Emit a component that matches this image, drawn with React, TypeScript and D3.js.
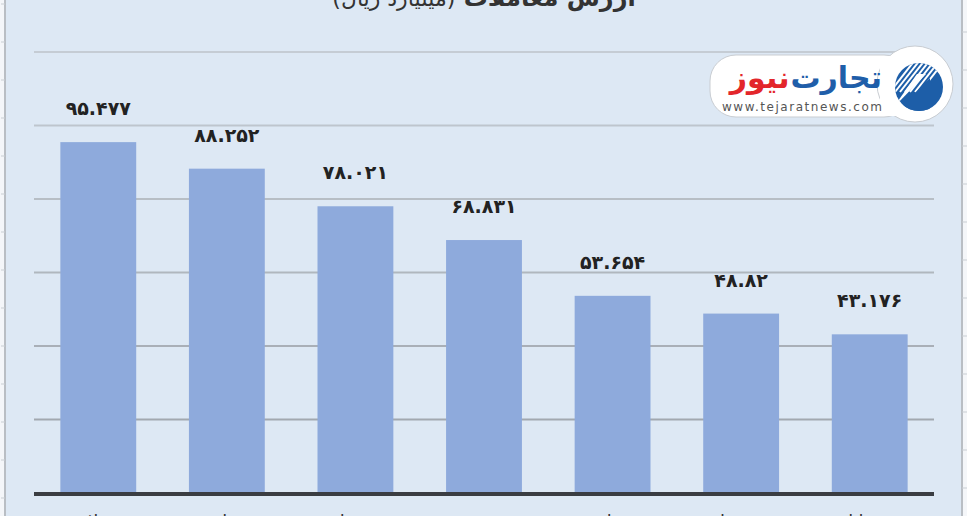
import React, { useEffect, useRef } from 'react';
import * as d3 from 'd3';

const categories = ['فولاد', 'فملی', 'شپنا', 'خودرو', 'وبملت', 'شستا', 'خساپا'];
const values = [95.477, 88.252, 78.021, 68.831, 53.654, 48.82, 43.176];
const yTicks = [0, 20, 40, 60, 80, 100, 120];

const toFa = (s: string) => s.replace(/\d/g, d => '۰۱۲۳۴۵۶۷۸۹'[+d]);

const W = 967;
const H = 516;

const App: React.FC = () => {
  const ref = useRef<SVGSVGElement>(null);

  useEffect(() => {
    const svg = d3.select(ref.current);
    svg.html('');

    const margin = { left: 34, right: 33, top: 52, bottom: 23 };
    const x = d3.scaleBand<string>()
      .domain(categories)
      .range([margin.left, W - margin.right])
      .paddingInner(0.41)
      .paddingOuter(0.205);
    const y = d3.scaleLinear().domain([0, 120]).range([H - margin.bottom, margin.top]);

    // frame
    svg.append('rect').attr('width', W).attr('height', H).attr('fill', '#f4f6f9');
    svg.append('rect').attr('x', 5).attr('width', 957).attr('height', H).attr('fill', '#dde8f4');
    svg.append('line').attr('x1', 5).attr('x2', 5).attr('y1', 0).attr('y2', H)
      .attr('stroke', '#b9bec4').attr('stroke-width', 2);
    svg.append('line').attr('x1', 962).attr('x2', 962).attr('y1', 0).attr('y2', H)
      .attr('stroke', '#b9bec4').attr('stroke-width', 2);
    const sideTicks = d3.range(4, H, 38);
    svg.append('g').selectAll('line').data(sideTicks).enter().append('line')
      .attr('x1', 1).attr('x2', 5).attr('y1', d => d).attr('y2', d => d)
      .attr('stroke', '#c9ced3');
    svg.append('g').selectAll('line').data(sideTicks.map(d => d + 28)).enter().append('line')
      .attr('x1', 962).attr('x2', 967).attr('y1', d => d).attr('y2', d => d)
      .attr('stroke', '#c9ced3');

    // gridlines
    svg.append('g').selectAll('line').data(yTicks.slice(1)).enter().append('line')
      .attr('x1', margin.left).attr('x2', W - margin.right)
      .attr('y1', d => y(d)).attr('y2', d => y(d))
      .attr('stroke', (d) => d3.interpolateRgb('#9ba1a8', '#c5ccd4')(d / 120))
      .attr('stroke-width', 2);

    // bars
    svg.append('g').selectAll('rect').data(values).enter().append('rect')
      .attr('x', (d, i) => x(categories[i])!)
      .attr('width', x.bandwidth())
      .attr('y', d => y(d))
      .attr('height', d => y(0) - y(d))
      .attr('fill', '#8eaadc');

    // baseline
    svg.append('line')
      .attr('x1', margin.left).attr('x2', W - margin.right)
      .attr('y1', y(0) + 1).attr('y2', y(0) + 1)
      .attr('stroke', '#3a3d42').attr('stroke-width', 4);

    // value labels
    svg.append('g').selectAll('text').data(values).enter().append('text')
      .attr('x', (d, i) => x(categories[i])! + x.bandwidth() / 2)
      .attr('y', d => y(d) - 27)
      .attr('text-anchor', 'middle')
      .attr('font-family', 'DejaVu Sans')
      .attr('font-weight', 'bold')
      .attr('font-size', 19)
      .attr('fill', '#222')
      .text(d => toFa(String(d)));

    // category labels (cut off at the bottom, as in the source image)
    svg.append('g').selectAll('text').data(categories).enter().append('text')
      .attr('x', d => x(d)! + x.bandwidth() / 2)
      .attr('y', H + 12)
      .attr('text-anchor', 'middle')
      .attr('direction', 'rtl')
      .attr('font-family', 'DejaVu Sans')
      .attr('font-size', 18)
      .attr('fill', '#333')
      .text(d => d);

    // title (cut off at the top)
    const title = svg.append('text')
      .attr('x', 484).attr('y', 6)
      .attr('text-anchor', 'middle')
      .attr('direction', 'rtl')
      .attr('font-family', 'DejaVu Sans')
      .attr('fill', '#333');
    title.append('tspan').attr('font-weight', 'bold').attr('font-size', 24).text('ارزش معاملات ');
    title.append('tspan').attr('font-size', 22).text('(میلیارد ریال)');

    // logo
    const logo = svg.append('g');
    logo.append('rect').attr('x', 710).attr('y', 55).attr('width', 200).attr('height', 62)
      .attr('rx', 26).attr('fill', '#fff').attr('stroke', '#c9cdd2');
    logo.append('circle').attr('cx', 915).attr('cy', 84).attr('r', 38)
      .attr('fill', '#fff').attr('stroke', '#c9cdd2');
    logo.append('rect').attr('x', 880).attr('y', 56).attr('width', 30).attr('height', 60).attr('fill', '#fff');
    logo.append('circle').attr('cx', 919).attr('cy', 87).attr('r', 24).attr('fill', '#1d5ea8');
    svg.append('defs').append('clipPath').attr('id', 'logoClip')
      .append('circle').attr('cx', 919).attr('cy', 87).attr('r', 24);
    const stripes = logo.append('g').attr('clip-path', 'url(#logoClip)');
    stripes.selectAll('line').data(d3.range(0, 7)).enter().append('line')
      .attr('x1', d => 890 + d * 5).attr('y1', 92)
      .attr('x2', d => 915 + d * 5).attr('y2', 60)
      .attr('stroke', '#fff').attr('stroke-width', 2);
    stripes.append('path').attr('d', 'M896,112 L930,78 L930,112 Z').attr('fill', '#1d5ea8');
    stripes.append('path').attr('d', 'M893,108 L926,74 L917,74 Z').attr('fill', '#fff');

    const t1 = logo.append('text')
      .attr('x', 882).attr('y', 88)
      .attr('text-anchor', 'end')
      .attr('font-family', 'DejaVu Sans')
      .attr('font-weight', 'bold')
      .attr('font-size', 30)
      .attr('fill', '#1f5ea9')
      .text('تجارت');
    const w1 = (t1.node() as SVGTextElement).getComputedTextLength();
    logo.append('text')
      .attr('x', 882 - w1 - 1).attr('y', 88)
      .attr('text-anchor', 'end')
      .attr('font-family', 'DejaVu Sans')
      .attr('font-weight', 'bold')
      .attr('font-size', 30)
      .attr('fill', '#e3262b')
      .text('نیوز');
    logo.append('text')
      .attr('x', 722).attr('y', 111)
      .attr('textLength', 160)
      .attr('font-family', 'DejaVu Sans')
      .attr('font-size', 12)
      .attr('fill', '#555')
      .text('www.tejaratnews.com');
  }, []);

  return (
    <svg ref={ref} width={W} height={H}
      style={{ position: 'absolute', left: 0, top: 0, display: 'block' }} />
  );
};

export default App;
